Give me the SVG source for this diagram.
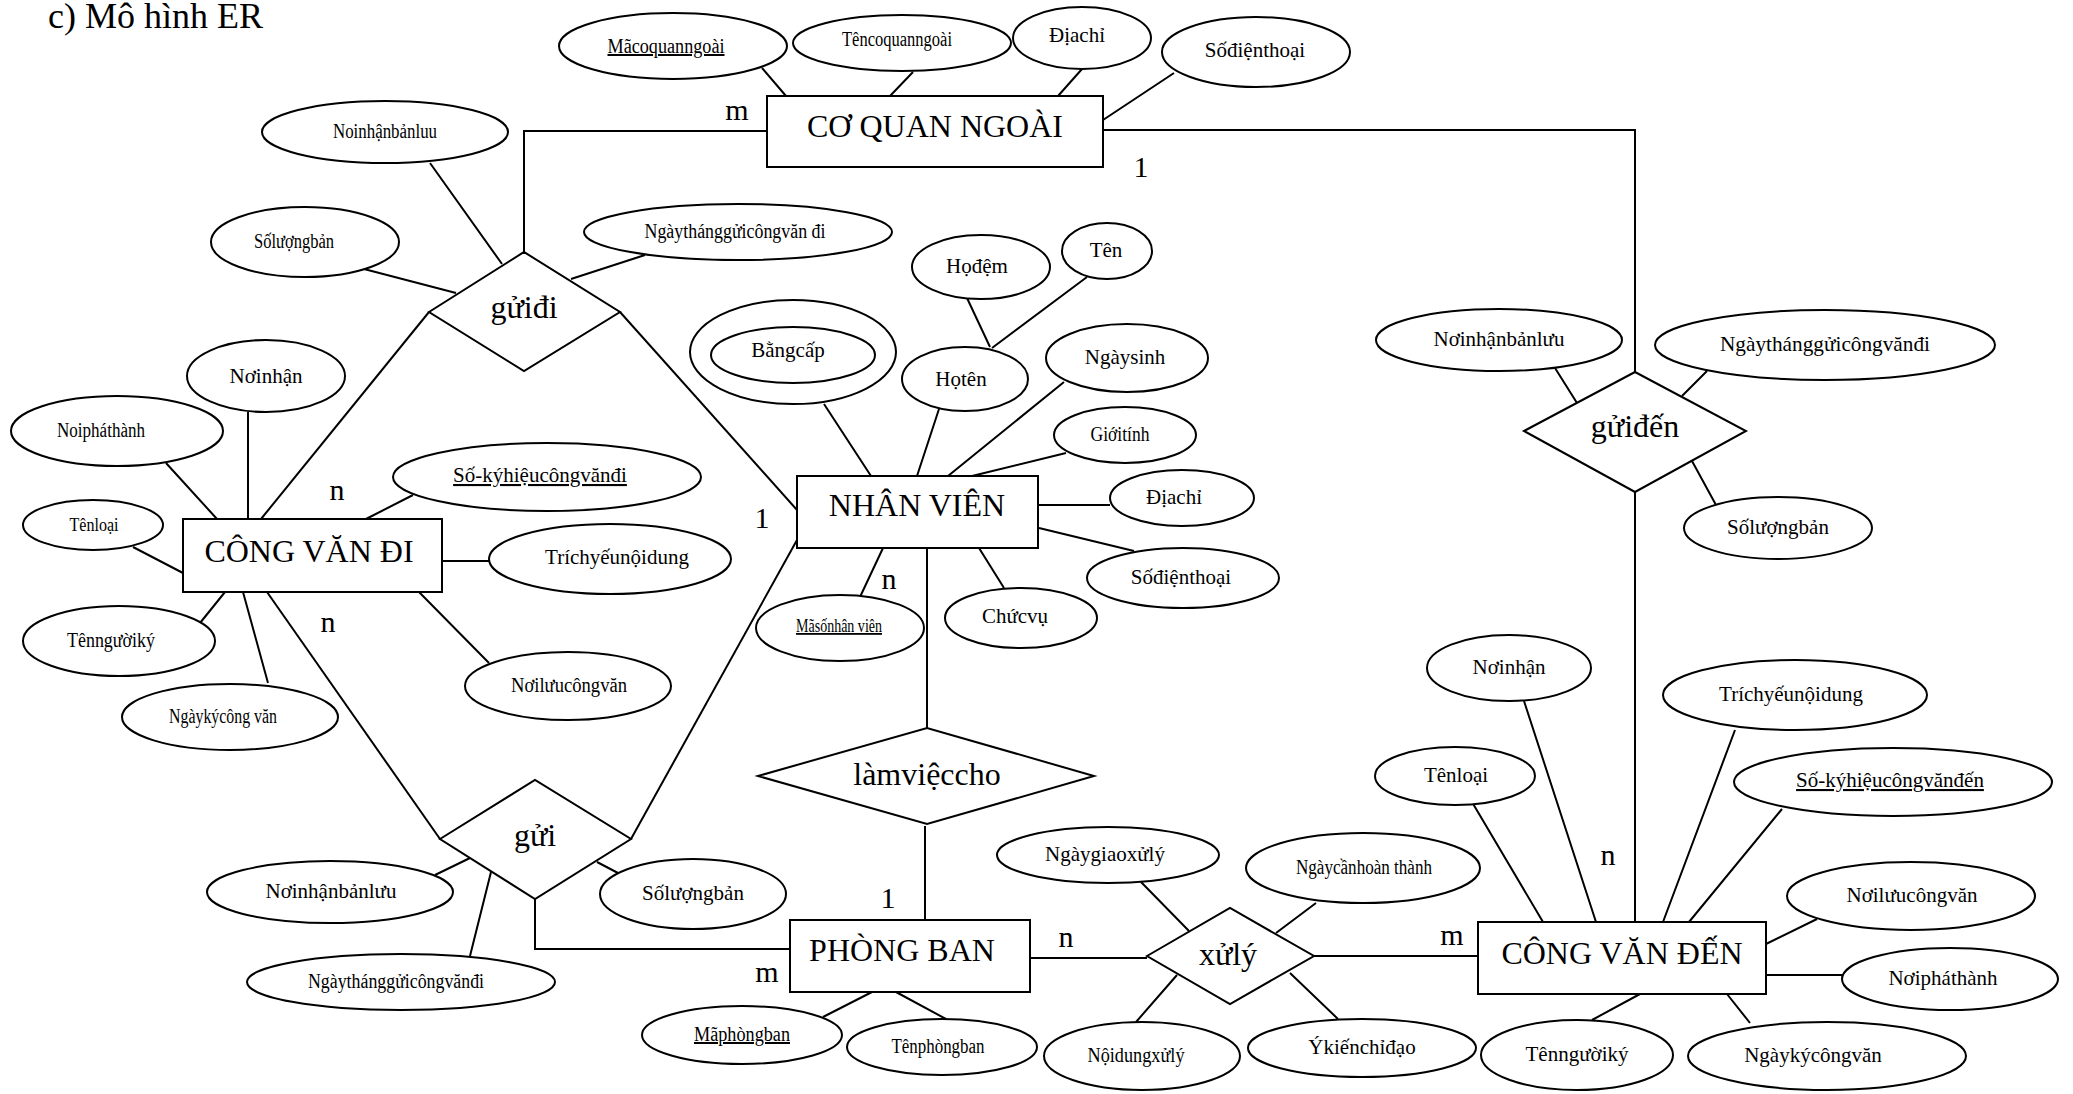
<svg xmlns="http://www.w3.org/2000/svg" width="2073" height="1094" viewBox="0 0 2073 1094">
<style>
.s{fill:#fff;stroke:#000;stroke-width:2}
.c{fill:none;stroke:#000;stroke-width:2}
text{font-family:"Liberation Serif","DejaVu Serif",serif;fill:#000;text-anchor:middle;font-size:21px}
.tc{font-size:20px}
.big{font-size:32px}
.card{font-size:30px}
.u{text-decoration:underline}
</style>
<rect width="2073" height="1094" fill="#fff"/>
<text x="48" y="28" style="text-anchor:start;font-size:36px">c) Mô hình ER</text>

<g id="connectors">
<path class="c" d="M524,252 V131 H767"/>
<path class="c" d="M1103,130 H1635 V372"/>
<path class="c" d="M1635,492 V922"/>
<path class="c" d="M429,312 L261,519"/>
<path class="c" d="M620,312 L797,510"/>
<path class="c" d="M267,592 L440,839"/>
<path class="c" d="M631,839 L797,540"/>
<path class="c" d="M535,899 V949 H790"/>
<path class="c" d="M927,548 V728"/>
<path class="c" d="M925,826 V920"/>
<path class="c" d="M1030,958 H1147"/>
<path class="c" d="M1314,956 H1478"/>
<!-- attribute links -->
<path class="c" d="M762,68 L786,96 M913,72 L890,96 M1082,69 L1058,96 M1174,73 L1103,120"/>
<path class="c" d="M430,163 L502,264 M364,269 L456,293 M645,255 L571,279"/>
<path class="c" d="M248,412 V519 M166,463 L217,519 M133,547 L183,573 M413,495 L366,519 M442,561 H489 M200,623 L225,592 M268,683 L243,592 M419,592 L489,663"/>
<path class="c" d="M824,404 L871,476 M939,409 L917,476 M967,298 L990,347 M1087,277 L992,348 M1064,382 L948,476 M1066,453 L972,476 M1038,505 H1110 M1039,528 L1134,551 M979,548 L1004,588 M883,548 L860,597"/>
<path class="c" d="M1555,368 L1577,403 M1707,371 L1682,396 M1692,461 L1716,505"/>
<path class="c" d="M435,875 L470,858 M470,956 L491,872 M597,862 L618,873"/>
<path class="c" d="M823,1017 L872,992 M896,992 L946,1019"/>
<path class="c" d="M1141,882 L1189,931 M1316,903 L1276,933 M1177,975 L1136,1022 M1290,973 L1338,1019"/>
<path class="c" d="M1524,701 L1596,922 M1472,802 L1543,922 M1735,730 L1663,922 M1782,809 L1689,922 M1817,919 L1766,944 M1766,975 H1842 M1640,994 L1592,1020 M1727,994 L1750,1023"/>
</g>

<g id="cards">
<text class="card" x="737" y="120">m</text>
<text class="card" x="1141" y="177">1</text>
<text class="card" x="337" y="500">n</text>
<text class="card" x="328" y="632">n</text>
<text class="card" x="762" y="528">1</text>
<text class="card" x="889" y="589">n</text>
<text class="card" x="888" y="908">1</text>
<text class="card" x="767" y="982">m</text>
<text class="card" x="1066" y="947">n</text>
<text class="card" x="1452" y="945">m</text>
<text class="card" x="1608" y="865">n</text>
</g>

<g id="e-coquanngoai"><rect class="s" x="767" y="96" width="336" height="71"/><text class="big" x="935" y="137">CƠ QUAN NGOÀI</text></g>
<g id="e-congvandi"><rect class="s" x="183" y="519" width="259" height="73"/><text class="big" x="309" y="562">CÔNG VĂN ĐI</text></g>
<g id="e-nhanvien"><rect class="s" x="797" y="476" width="241" height="72"/><text class="big" x="917" y="516">NHÂN VIÊN</text></g>
<g id="e-phongban"><rect class="s" x="790" y="920" width="240" height="72"/><text class="big" x="902" y="961">PHÒNG BAN</text></g>
<g id="e-congvanden"><rect class="s" x="1478" y="922" width="288" height="72"/><text class="big" x="1622" y="964">CÔNG VĂN ĐẾN</text></g>

<g id="r-guidi"><polygon class="s" points="429,312 524,252 620,312 524,371"/><text class="big" x="524" y="318">gửiđi</text></g>
<g id="r-guiden"><polygon class="s" points="1524,431 1635,372 1746,431 1635,492"/><text class="big" x="1635" y="437">gửiđến</text></g>
<g id="r-gui"><polygon class="s" points="440,839 535,780 631,839 535,899"/><text class="big" x="535" y="846">gửi</text></g>
<g id="r-lamvieccho"><polygon class="s" points="758,776 927,728 1094,776 927,824"/><text class="big" x="927" y="785">làmviệccho</text></g>
<g id="r-xuly"><polygon class="s" points="1147,956 1230,908 1314,956 1230,1004"/><text class="big" x="1228" y="965">xửlý</text></g>

<g id="a-macoquanngoai"><ellipse class="s" cx="673" cy="46" rx="114" ry="33"/><text class="tc u" x="666" y="53" textLength="117" lengthAdjust="spacingAndGlyphs">Mãcoquanngoài</text></g>
<g id="a-tencoquanngoai"><ellipse class="s" cx="902" cy="43" rx="109" ry="28"/><text class="tc" x="897" y="46" textLength="110" lengthAdjust="spacingAndGlyphs">Têncoquanngoài</text></g>
<g id="a-cqn-diachi"><ellipse class="s" cx="1082" cy="38" rx="69" ry="31"/><text x="1077" y="42">Địachỉ</text></g>
<g id="a-cqn-sodienthoai"><ellipse class="s" cx="1256" cy="52" rx="94" ry="35"/><text x="1255" y="57">Sốđiệnthoại</text></g>

<g id="a-guidi-noinhan"><ellipse class="s" cx="385" cy="132" rx="123" ry="31"/><text class="tc" x="385" y="138" textLength="104" lengthAdjust="spacingAndGlyphs">Noinhậnbảnluu</text></g>
<g id="a-guidi-soluong"><ellipse class="s" cx="305" cy="242" rx="94" ry="35"/><text class="tc" x="294" y="248" textLength="80" lengthAdjust="spacingAndGlyphs">Sốlượngbản</text></g>
<g id="a-guidi-ngay"><ellipse class="s" cx="738" cy="232" rx="154" ry="28"/><text class="tc" x="735" y="238" textLength="181" lengthAdjust="spacingAndGlyphs">Ngàythánggửicôngvăn đi</text></g>

<g id="a-cvdi-noinhan"><ellipse class="s" cx="266" cy="376" rx="79" ry="36"/><text x="266" y="383">Nơinhận</text></g>
<g id="a-cvdi-noiphathanh"><ellipse class="s" cx="117" cy="431" rx="106" ry="35"/><text class="tc" x="101" y="437" textLength="88" lengthAdjust="spacingAndGlyphs">Noipháthành</text></g>
<g id="a-cvdi-tenloai"><ellipse class="s" cx="93" cy="525" rx="70" ry="25"/><text x="94" y="531" style="font-size:18px" textLength="49" lengthAdjust="spacingAndGlyphs">Tênloại</text></g>
<g id="a-cvdi-sokyhieu"><ellipse class="s" cx="547" cy="477" rx="154" ry="34"/><text class="u" x="540" y="482">Số-kýhiệucôngvănđi</text></g>
<g id="a-cvdi-trichyeu"><ellipse class="s" cx="610" cy="559" rx="121" ry="35"/><text x="617" y="564">Tríchyếunộidung</text></g>
<g id="a-cvdi-tennguoiky"><ellipse class="s" cx="119" cy="641" rx="96" ry="35"/><text class="tc" x="111" y="647" textLength="88" lengthAdjust="spacingAndGlyphs">Tênngườiký</text></g>
<g id="a-cvdi-ngayky"><ellipse class="s" cx="230" cy="717" rx="108" ry="33"/><text class="tc" x="223" y="723" textLength="108" lengthAdjust="spacingAndGlyphs">Ngàykýcông văn</text></g>
<g id="a-cvdi-noiluu"><ellipse class="s" cx="568" cy="686" rx="103" ry="34"/><text class="tc" x="569" y="692" textLength="116" lengthAdjust="spacingAndGlyphs">Nơilưucôngvăn</text></g>

<g id="a-nv-bangcap"><ellipse class="s" cx="793" cy="352" rx="103" ry="52"/><ellipse class="s" cx="793" cy="355" rx="82" ry="28"/><text x="788" y="357">Bằngcấp</text></g>
<g id="a-nv-hoten"><ellipse class="s" cx="965" cy="379" rx="63" ry="32"/><text x="961" y="386">Họtên</text></g>
<g id="a-nv-hodem"><ellipse class="s" cx="981" cy="267" rx="69" ry="32"/><text x="977" y="273">Họđệm</text></g>
<g id="a-nv-ten"><ellipse class="s" cx="1107" cy="251" rx="45" ry="28"/><text x="1106" y="257">Tên</text></g>
<g id="a-nv-ngaysinh"><ellipse class="s" cx="1127" cy="358" rx="81" ry="34"/><text x="1125" y="364">Ngàysinh</text></g>
<g id="a-nv-gioitinh"><ellipse class="s" cx="1125" cy="435" rx="71" ry="28"/><text class="tc" x="1120" y="441" textLength="59" lengthAdjust="spacingAndGlyphs">Giớitính</text></g>
<g id="a-nv-diachi"><ellipse class="s" cx="1182" cy="498" rx="72" ry="28"/><text x="1174" y="504">Địachỉ</text></g>
<g id="a-nv-sodienthoai"><ellipse class="s" cx="1183" cy="578" rx="96" ry="30"/><text x="1181" y="584">Sốđiệnthoại</text></g>
<g id="a-nv-chucvu"><ellipse class="s" cx="1021" cy="618" rx="76" ry="30"/><text x="1015" y="623">Chứcvụ</text></g>
<g id="a-nv-maso"><ellipse class="s" cx="840" cy="628" rx="84" ry="33"/><text class="u" x="839" y="632" style="font-size:18px" textLength="86" lengthAdjust="spacingAndGlyphs">Mãsốnhân viên</text></g>

<g id="a-guiden-noinhan"><ellipse class="s" cx="1499" cy="340" rx="123" ry="31"/><text x="1499" y="346">Nơinhậnbảnlưu</text></g>
<g id="a-guiden-ngay"><ellipse class="s" cx="1825" cy="345" rx="170" ry="35"/><text x="1825" y="351" textLength="210" lengthAdjust="spacingAndGlyphs">Ngàythánggửicôngvănđi</text></g>
<g id="a-guiden-soluong"><ellipse class="s" cx="1778" cy="528" rx="94" ry="31"/><text x="1778" y="534">Sốlượngbản</text></g>

<g id="a-gui-noinhan"><ellipse class="s" cx="330" cy="892" rx="123" ry="31"/><text x="331" y="898">Nơinhậnbảnlưu</text></g>
<g id="a-gui-ngay"><ellipse class="s" cx="401" cy="982" rx="154" ry="28"/><text class="tc" x="396" y="988" textLength="176" lengthAdjust="spacingAndGlyphs">Ngàythánggửicôngvănđi</text></g>
<g id="a-gui-soluong"><ellipse class="s" cx="693" cy="894" rx="93" ry="35"/><text x="693" y="900">Sốlượngbản</text></g>

<g id="a-pb-ma"><ellipse class="s" cx="742" cy="1035" rx="100" ry="29"/><text class="tc u" x="742" y="1041" textLength="96" lengthAdjust="spacingAndGlyphs">Mãphòngban</text></g>
<g id="a-pb-ten"><ellipse class="s" cx="942" cy="1047" rx="95" ry="28"/><text class="tc" x="938" y="1053" textLength="93" lengthAdjust="spacingAndGlyphs">Tênphòngban</text></g>

<g id="a-xl-ngaygiao"><ellipse class="s" cx="1108" cy="855" rx="111" ry="28"/><text x="1105" y="861">Ngàygiaoxửlý</text></g>
<g id="a-xl-ngaycan"><ellipse class="s" cx="1363" cy="868" rx="117" ry="35"/><text class="tc" x="1364" y="874" textLength="136" lengthAdjust="spacingAndGlyphs">Ngàycầnhoàn thành</text></g>
<g id="a-xl-noidung"><ellipse class="s" cx="1142" cy="1056" rx="98" ry="34"/><text class="tc" x="1136" y="1062" textLength="97" lengthAdjust="spacingAndGlyphs">Nộidungxửlý</text></g>
<g id="a-xl-ykien"><ellipse class="s" cx="1362" cy="1048" rx="114" ry="29"/><text x="1362" y="1054">Ýkiếnchỉđạo</text></g>

<g id="a-cvden-noinhan"><ellipse class="s" cx="1509" cy="668" rx="82" ry="33"/><text x="1509" y="674">Nơinhận</text></g>
<g id="a-cvden-tenloai"><ellipse class="s" cx="1455" cy="776" rx="80" ry="29"/><text x="1456" y="782">Tênloại</text></g>
<g id="a-cvden-trichyeu"><ellipse class="s" cx="1795" cy="695" rx="132" ry="35"/><text x="1791" y="701">Tríchyếunộidung</text></g>
<g id="a-cvden-sokyhieu"><ellipse class="s" cx="1893" cy="782" rx="159" ry="34"/><text class="u" x="1890" y="787">Số-kýhiệucôngvănđến</text></g>
<g id="a-cvden-noiluu"><ellipse class="s" cx="1911" cy="896" rx="124" ry="34"/><text x="1912" y="902">Nơilưucôngvăn</text></g>
<g id="a-cvden-noiphathanh"><ellipse class="s" cx="1950" cy="979" rx="108" ry="31"/><text x="1943" y="985">Nơipháthành</text></g>
<g id="a-cvden-tennguoiky"><ellipse class="s" cx="1577" cy="1055" rx="96" ry="35"/><text x="1577" y="1061">Tênngườiký</text></g>
<g id="a-cvden-ngayky"><ellipse class="s" cx="1827" cy="1056" rx="139" ry="34"/><text x="1813" y="1062">Ngàykýcôngvăn</text></g>
</svg>
